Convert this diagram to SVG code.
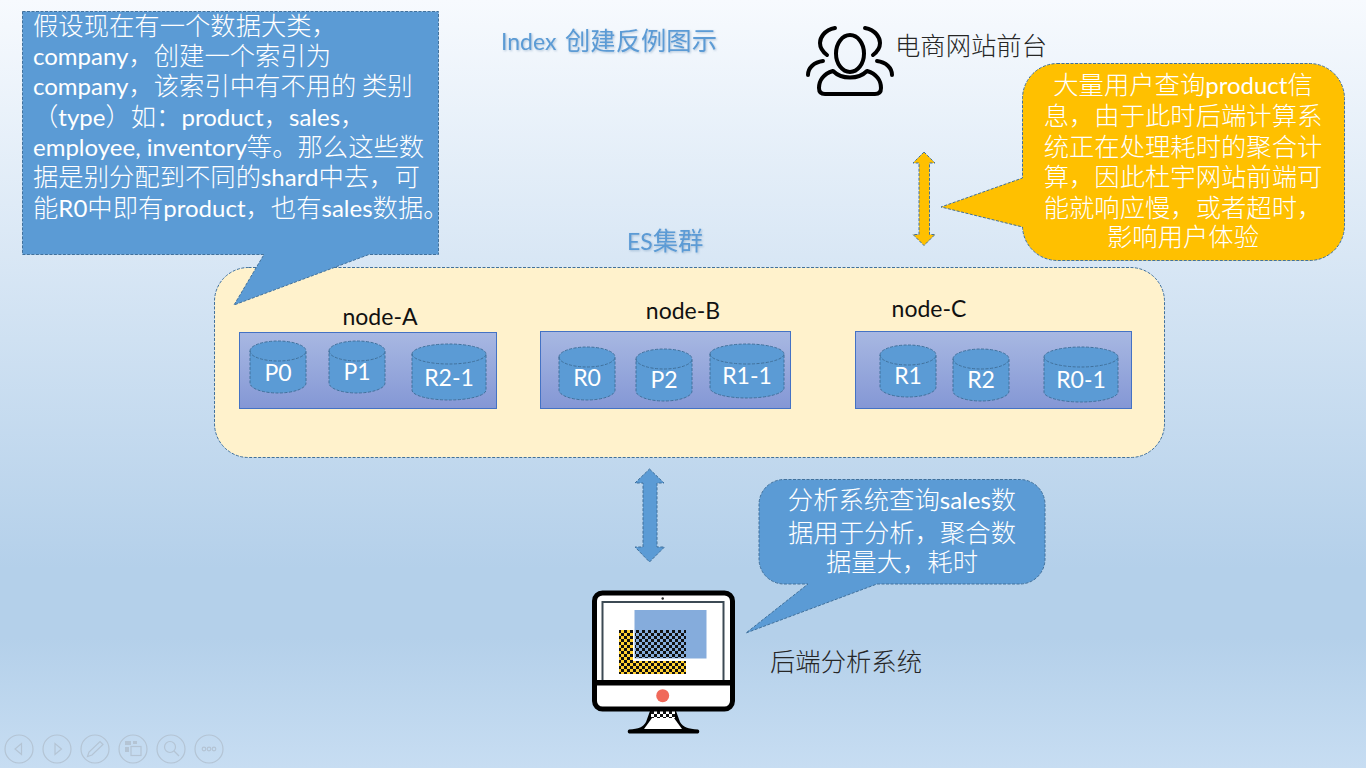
<svg xmlns="http://www.w3.org/2000/svg" width="1366" height="768" viewBox="0 0 1366 768">
<style>
text{font-family:"Noto Sans CJK SC","Lato",sans-serif;font-size:25.33px;font-weight:300}
.l,.s{font-family:"Lato","Noto Sans CJK SC",sans-serif;font-weight:400}
.l{font-size:24px}
.s{font-size:23px}
.w{fill:#fff}
.m{text-anchor:middle}
.k{fill:#111}
.d{fill:#262626}
.h{fill:#5b9bd5;font-weight:400}
.shape{stroke:#41719c;stroke-width:1;stroke-dasharray:3 1.5}
.blue{fill:#5b9bd5}
.box{fill:url(#nodeFill);stroke:#4472c4;stroke-width:1}
.cyl{fill:#5b9bd5;stroke:#41719c;stroke-width:1;stroke-dasharray:3 1.5}
.cap{fill:none;stroke:#41719c;stroke-width:1;stroke-dasharray:3 1.5}
.nav{fill:none;stroke:#b4c4d4;stroke-width:1.2}
.navf{fill:#b4c4d4}
.ic{fill:none;stroke:#000;stroke-width:4;stroke-linecap:round;stroke-linejoin:round}
</style>
<defs>
<linearGradient id="bg" x1="0" y1="0" x2="0" y2="1">
<stop offset="0" stop-color="#f7fafe"/>
<stop offset="0.74" stop-color="#b4d0ea"/>
<stop offset="0.83" stop-color="#b4d0ea"/>
<stop offset="1" stop-color="#c7ddf2"/>
</linearGradient>
<linearGradient id="nodeFill" x1="0" y1="0" x2="0" y2="1">
<stop offset="0" stop-color="#a8b8e2"/>
<stop offset="1" stop-color="#8497d5"/>
</linearGradient>
<pattern id="chkY" width="6" height="6" patternUnits="userSpaceOnUse">
<rect width="6" height="6" fill="#ffd030"/>
<rect width="3" height="3" fill="#111"/>
<rect x="3" y="3" width="3" height="3" fill="#111"/>
</pattern>
<pattern id="chkB" width="6" height="6" patternUnits="userSpaceOnUse">
<rect width="6" height="6" fill="#85acdc"/>
<rect width="3" height="3" fill="#111"/>
<rect x="3" y="3" width="3" height="3" fill="#111"/>
</pattern>
<pattern id="chkW" width="6" height="6" patternUnits="userSpaceOnUse">
<rect width="6" height="6" fill="#fff"/>
<rect width="3" height="3" fill="#111"/>
<rect x="3" y="3" width="3" height="3" fill="#111"/>
</pattern>
<filter id="glow" x="-5%" y="-20%" width="110%" height="140%">
<feDropShadow dx="1" dy="1" stdDeviation="0.8" flood-color="#7f9fbf" flood-opacity="0.6"/>
</filter>
</defs>

<rect width="1366" height="768" fill="url(#bg)"/>

<g id="title"><text class="h" x="501" y="50" filter="url(#glow)"><tspan class="s">Index</tspan><tspan x="565">创建反例图示</tspan></text></g>

<g id="es-cluster">
<rect class="shape" x="214.500" y="267.500" width="950" height="190" rx="34" fill="#fff2cc"/>
<text class="h" x="627" y="250" filter="url(#glow)"><tspan class="s">ES</tspan>集群</text>
</g>

<g id="node-A">
<text class="k m s" x="380" y="325">node-A</text>
<rect class="box" x="239.500" y="332.500" width="257" height="76"/>
</g>
<g id="node-B">
<text class="k m s" x="683" y="319">node-B</text>
<rect class="box" x="540.500" y="331.500" width="250" height="77"/>
</g>
<g id="node-C">
<text class="k m s" x="929" y="317">node-C</text>
<rect class="box" x="855.500" y="331.500" width="276" height="77"/>
</g>

<g id="shard-P0"><path class="cyl" d="M250 351a28 10 0 0 1 56 0v32a28 10 0 0 1-56 0z"/><path class="cap" d="M250 351a28 10 0 0 0 56 0"/><text class="w m s" x="278" y="381">P0</text></g>
<g id="shard-P1"><path class="cyl" d="M329 351a28 10 0 0 1 56 0v32a28 10 0 0 1-56 0z"/><path class="cap" d="M329 351a28 10 0 0 0 56 0"/><text class="w m s" x="357" y="380">P1</text></g>
<g id="shard-R2-1"><path class="cyl" d="M412 354a37 10 0 0 1 74 0v36a37 10 0 0 1-74 0z"/><path class="cap" d="M412 354a37 10 0 0 0 74 0"/><text class="w m s" x="449" y="386">R2-1</text></g>
<g id="shard-R0"><path class="cyl" d="M559 357a28 10 0 0 1 56 0v33a28 10 0 0 1-56 0z"/><path class="cap" d="M559 357a28 10 0 0 0 56 0"/><text class="w m s" x="587" y="386">R0</text></g>
<g id="shard-P2"><path class="cyl" d="M636 359a28 10 0 0 1 56 0v32a28 10 0 0 1-56 0z"/><path class="cap" d="M636 359a28 10 0 0 0 56 0"/><text class="w m s" x="664" y="388">P2</text></g>
<g id="shard-R1-1"><path class="cyl" d="M710 354a37 10 0 0 1 74 0v34a37 10 0 0 1-74 0z"/><path class="cap" d="M710 354a37 10 0 0 0 74 0"/><text class="w m s" x="747" y="384">R1-1</text></g>
<g id="shard-R1"><path class="cyl" d="M880 355a28 10 0 0 1 56 0v32a28 10 0 0 1-56 0z"/><path class="cap" d="M880 355a28 10 0 0 0 56 0"/><text class="w m s" x="908" y="384">R1</text></g>
<g id="shard-R2"><path class="cyl" d="M953 359a28 10 0 0 1 56 0v32a28 10 0 0 1-56 0z"/><path class="cap" d="M953 359a28 10 0 0 0 56 0"/><text class="w m s" x="981" y="388">R2</text></g>
<g id="shard-R0-1"><path class="cyl" d="M1044 357a37 10 0 0 1 74 0v35a37 10 0 0 1-74 0z"/><path class="cap" d="M1044 357a37 10 0 0 0 74 0"/><text class="w m s" x="1081" y="388">R0-1</text></g>

<g id="connectors">
<path class="shape" fill="#ffc000" d="M924 152L935 163H929.500V234.500H935L924 245.500L913 234.500H919V163H913Z"/>
<path class="shape blue" d="M649.500 469L664 483H657V547H664.500L649.500 562L635 547H643V483H635Z"/>
</g>

<g id="note-index">
<path class="shape blue" d="M22.500 11.500H438.500V254.500H369L234 305L264 254.500H22.500Z"/>
<text class="w"><tspan x="33" y="35">假设现在有一个数据大类，</tspan><tspan x="33" y="65"><tspan class="l">company</tspan>，创建一个索引为</tspan><tspan x="33" y="95"><tspan class="l">company</tspan>，该索引中有不用的 类别</tspan><tspan x="33" y="126">（<tspan class="l">type</tspan>）如：<tspan class="l">product</tspan>，<tspan class="l">sales</tspan>，</tspan><tspan x="33" y="156"><tspan class="l">employee, inventory</tspan>等。那么这些数</tspan><tspan x="33" y="186">据是别分配到不同的<tspan class="l">shard</tspan>中去，可</tspan><tspan x="33" y="217">能<tspan class="l">R0</tspan>中即有<tspan class="l">product</tspan>，也有<tspan class="l">sales</tspan>数据。</tspan></text>
</g>

<g id="note-frontend">
<path class="shape" fill="#ffc000" d="M1057 63.500H1309A35 35 0 0 1 1344.500 98.500V225A35 35 0 0 1 1309 260.500H1057A35 35 0 0 1 1022.500 227L941 207L1022.500 178V98.500A35 35 0 0 1 1057 63.500Z"/>
<text class="w m"><tspan x="1183" y="94">大量用户查询<tspan class="l">product</tspan>信</tspan><tspan x="1183" y="125">息，由于此时后端计算系</tspan><tspan x="1183" y="156">统正在处理耗时的聚合计</tspan><tspan x="1183" y="186">算，因此杜宇网站前端可</tspan><tspan x="1183" y="217">能就响应慢，或者超时，</tspan><tspan x="1183" y="246">影响用户体验</tspan></text>
</g>

<g id="note-analysis">
<path class="shape blue" d="M784 479.500H1020A25 25 0 0 1 1045 504.500V559A25 25 0 0 1 1020 584H877L746 633L808 584H784A25 25 0 0 1 759 559V504.500A25 25 0 0 1 784 479.500Z"/>
<text class="w m"><tspan x="902" y="509">分析系统查询<tspan class="l">sales</tspan>数</tspan><tspan x="902" y="542">据用于分析，聚合数</tspan><tspan x="902" y="571">据量大，耗时</tspan></text>
</g>

<g id="frontend">
<ellipse class="ic" cx="850" cy="53.500" rx="14" ry="18.500"/>
<path class="ic" d="M833 71C823 74 819 81 819 88C819 92 821 94 825 94H875C879 94 881 92 881 88C881 81 877 74 867 71C862 76 856 77.500 850 77.500C844 77.500 838 76 833 71Z"/>
<path class="ic" d="M835 28C824 30 820 38 820 43C820 48 823 52 827 55"/>
<path class="ic" d="M865 28C876 30 880 38 880 43C880 48 877 52 873 55"/>
<path class="ic" d="M823 61C814 62 808 68 808 75"/>
<path class="ic" d="M877 61C886 62 892 68 892 75"/>
<text class="d" x="895" y="55">电商网站前台</text>
</g>

<g id="backend">
<path d="M650 711L646 722C643 727 639 729 629 729.500A2.200 2.200 0 0 0 629 733.500H698A2.200 2.200 0 0 0 698 729.500C688 729 683 727 680 722L676 711Z" fill="#000"/>
<path d="M652 718H674L682 729H644Z" fill="#fff"/>
<rect x="651" y="711" width="24" height="7" fill="url(#chkW)"/>
<rect x="594.500" y="593" width="138" height="116" rx="8" fill="#fff" stroke="#000" stroke-width="5"/>
<rect x="602.500" y="602" width="121" height="80" fill="#fff" stroke="#3c4a54" stroke-width="2"/>
<rect x="592" y="680" width="142" height="5.500" fill="#000"/>
<circle cx="662.700" cy="695.700" r="6.500" fill="#f0695a"/>
<circle cx="662.700" cy="598.500" r="1.200" fill="#222"/>
<path d="M619 630H633V661H686V674H619Z" fill="url(#chkY)"/>
<rect x="634.500" y="610" width="72" height="48.500" fill="#85acdc"/>
<rect x="635" y="630" width="51" height="28" fill="url(#chkB)"/>
<text class="d" x="770" y="671">后端分析系统</text>
</g>

<g id="slide-controls">
<circle class="nav" cx="19" cy="749" r="14"/>
<path class="nav" d="M21.500 743.500V754.500L15 749Z"/>
<circle class="nav" cx="57" cy="749" r="14"/>
<path class="nav" d="M55 743.500V754.500L61.500 749Z"/>
<circle class="nav" cx="95" cy="749" r="14"/>
<path class="nav" d="M87.500 756.500L89 752L100 741.500L103 744.500L92 755Z"/>
<circle class="nav" cx="133" cy="749" r="14"/>
<path class="navf" d="M125 741h6v4h-6zM125 747h4v5h-4zM133 741h4v3h-4z"/>
<rect class="nav" x="131" y="746.500" width="10" height="9" stroke-width="2"/>
<circle class="nav" cx="171" cy="749" r="14"/>
<circle class="nav" cx="170" cy="747" r="5.500" stroke-width="1.600"/>
<path class="nav" d="M174 751L179 756" stroke-width="2"/>
<circle class="nav" cx="209" cy="749" r="14"/>
<circle class="nav" cx="204" cy="749" r="1.800"/><circle class="nav" cx="209" cy="749" r="1.800"/><circle class="nav" cx="214" cy="749" r="1.800"/>
</g>
</svg>
